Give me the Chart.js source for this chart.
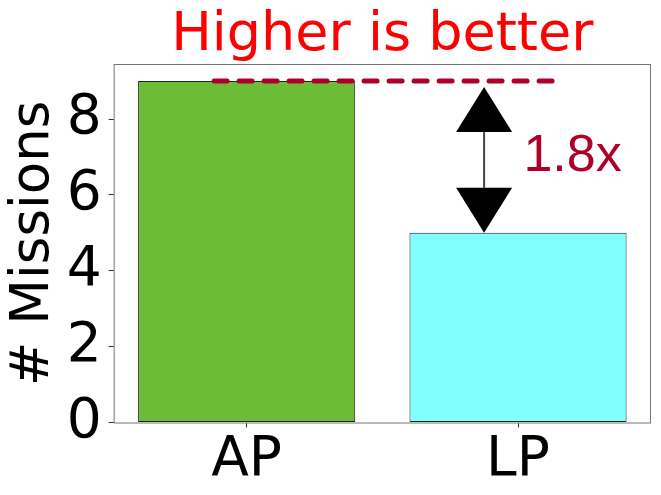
<!DOCTYPE html>
<html>
<head>
<meta charset="utf-8">
<script src="https://cdn.jsdelivr.net/npm/chart.js@4"></script>
<style>
  body { margin: 0; background: #fff; }
</style>
</head>
<body>
<canvas id="chart" width="661" height="495"></canvas>
<script>
// data
const categories = ["AP", "LP"];
const missions = [9, 5];
const yTicks = [0, 2, 4, 6, 8];
const refLevel = 9;
const refLineX = [-0.12, 1.14];
const arrowX = 0.875;
const ratioLabel = "1.8x";
const ratioLabelPos = [1.02, 7];

const DARK_RED = "#b0002a";

// frame + arrow + ratio text
const extras = {
  id: "extras",
  afterDatasetsDraw(chart) {
    const { ctx, chartArea: a, scales: { x, y } } = chart;
    ctx.save();

    // double arrow between the two levels
    const ax = x.getPixelForValue(arrowX);
    const yTop = y.getPixelForValue(refLevel) + 6;
    const yBot = y.getPixelForValue(missions[1]);
    const hw = 28, hl = 45;
    ctx.strokeStyle = "#444";
    ctx.lineWidth = 2;
    ctx.beginPath();
    ctx.moveTo(ax, yTop + hl);
    ctx.lineTo(ax, yBot - hl);
    ctx.stroke();
    ctx.fillStyle = "#000";
    ctx.beginPath();
    ctx.moveTo(ax, yTop);
    ctx.lineTo(ax - hw, yTop + hl);
    ctx.lineTo(ax + hw, yTop + hl);
    ctx.closePath();
    ctx.fill();
    ctx.beginPath();
    ctx.moveTo(ax, yBot);
    ctx.lineTo(ax - hw, yBot - hl);
    ctx.lineTo(ax + hw, yBot - hl);
    ctx.closePath();
    ctx.fill();

    // ratio label
    ctx.fillStyle = DARK_RED;
    ctx.font = "52px 'Liberation Sans', Arial, sans-serif";
    ctx.textAlign = "left";
    ctx.textBaseline = "middle";
    ctx.fillText(ratioLabel, x.getPixelForValue(ratioLabelPos[0]), y.getPixelForValue(ratioLabelPos[1]));

    // frame
    ctx.strokeStyle = "#777";
    ctx.lineWidth = 1;
    ctx.strokeRect(a.left + 0.5, a.top + 0.5, a.right - a.left - 1, a.bottom - a.top);
    ctx.restore();
  }
};

const ctx = document.getElementById("chart").getContext("2d");

new Chart(ctx, {
  type: "bar",
  data: {
    datasets: [
      {
        type: "line",
        data: refLineX.map(v => ({ x: v, y: refLevel })),
        borderColor: DARK_RED,
        borderWidth: 5,
        borderDash: [13, 12],
        borderCapStyle: "round",
        pointRadius: 0,
        order: 0
      },
      {
        data: categories.map((c, i) => ({ x: i, y: missions[i] })),
        backgroundColor: ["#6bbd37", "#80ffff"],
        borderColor: "#222",
        borderWidth: 1,
        borderSkipped: false,
        categoryPercentage: 1,
        barPercentage: 0.8,
        order: 1
      }
    ]
  },
  options: {
    responsive: false,
    animation: false,
    layout: { padding: { top: 0, right: 10, bottom: 0.5, left: 0 } },
    plugins: {
      legend: { display: false },
      tooltip: { enabled: false },
      title: {
        display: true,
        fullSize: false,
        text: "Higher is better",
        color: "#ff0000",
        font: { family: "DejaVu Sans", size: 54, weight: "normal", lineHeight: 1 },
        padding: { top: 9, bottom: 1 }
      }
    },
    scales: {
      x: {
        type: "linear",
        offset: false,
        min: -0.49,
        max: 1.49,
        afterBuildTicks: s => { s.ticks = categories.map((c, i) => ({ value: i })); },
        ticks: {
          autoSkip: false,
          callback: v => categories[v],
          color: "#000",
          padding: 6,
          font: { family: "DejaVu Sans", size: 55, lineHeight: 1.0 }
        },
        grid: { offset: false, drawOnChartArea: false, tickLength: 5, color: "#333" },
        border: { display: false }
      },
      y: {
        min: 0,
        max: 9.45,
        afterBuildTicks: s => { s.ticks = yTicks.map(v => ({ value: v })); },
        ticks: {
          color: "#000",
          padding: 7,
          font: { family: "DejaVu Sans", size: 55 }
        },
        grid: { drawOnChartArea: false, tickLength: 5, color: "#333" },
        border: { display: false },
        title: {
          display: true,
          text: "# Missions",
          color: "#000",
          font: { family: "DejaVu Sans", size: 53, lineHeight: 0.975 },
          padding: { top: 8, bottom: 0 }
        }
      }
    }
  },
  plugins: [extras]
});
</script>
</body>
</html>
